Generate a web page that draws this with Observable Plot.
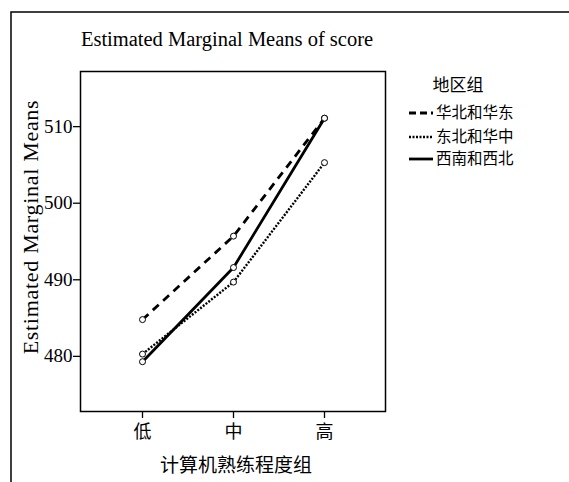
<!DOCTYPE html>
<html><head><meta charset="utf-8">
<script src="https://cdn.jsdelivr.net/npm/d3@7"></script>
<script src="https://cdn.jsdelivr.net/npm/@observablehq/plot@0.6"></script>
<style>body{margin:0;background:#fff}</style>
</head><body><div id="chart"></div>
<script>
const levels = ["低", "中", "高"];
const groups = ["华北和华东", "东北和华中", "西南和西北"];
const northEast = [484.8, 495.7, 511.1];
const northeastCentral = [480.3, 489.7, 505.3];
const southwestNorthwest = [479.3, 491.6, 511.1];
const yTicks = [480, 490, 500, 510];

const seriesValues = [northEast, northeastCentral, southwestNorthwest];
const rows = [];
groups.forEach((g, i) => levels.forEach((l, j) => rows.push({group: g, level: l, value: seriesValues[i][j]})));

const dashMap = {"华北和华东": "8,6", "东北和华中": "2,1.5", "西南和西北": "none"};
const widthMap = {"华北和华东": 2.8, "东北和华中": 2.4, "西南和西北": 2.8};

const serif = "'Liberation Serif','DejaVu Serif',serif";
const cjk = "'Noto Sans CJK SC',sans-serif";

const lineMarks = groups.map(g => Plot.line(rows.filter(r => r.group === g), {
  x: "level", y: "value", stroke: "black", strokeWidth: widthMap[g], strokeDasharray: dashMap[g], strokeLinecap: "butt"
}));

const chart = Plot.plot({
  width: 569, height: 482,
  marginTop: 71, marginLeft: 80, marginRight: 184, marginBottom: 71,
  x: {type: "point", domain: levels, padding: 0.675},
  y: {domain: [472.8, 517.2]},
  style: {fontFamily: serif, color: "black", background: "white"},
  marks: [
    Plot.frame({stroke: "black", strokeWidth: 1.5}),
    Plot.axisY({ticks: yTicks, tickSize: 7, tickPadding: 1, label: null, fontSize: 19, tickFormat: d3.format("d"), strokeWidth: 1.3}),
    Plot.axisX({tickSize: 7, tickPadding: 7, label: null, fontSize: 18, fontFamily: cjk, strokeWidth: 1.3}),
    ...lineMarks,
    Plot.dot(rows, {x: "level", y: "value", r: 3, fill: "white", stroke: "black", strokeWidth: 1})
  ]
});
document.getElementById("chart").appendChild(chart);

const svg = d3.select(chart);
// outer border
svg.append("path").attr("d", "M11,482V12H569").attr("fill", "none").attr("stroke", "black").attr("stroke-width", 1.5);
// title
svg.append("text").attr("x", 227).attr("y", 39).attr("dy", "0.35em").attr("text-anchor", "middle")
  .attr("font-family", serif).attr("font-size", 20.5).text("Estimated Marginal Means of score");
// y label
svg.append("text").attr("transform", "translate(38,227) rotate(-90)").attr("text-anchor", "middle")
  .attr("font-family", serif).attr("font-size", 22).attr("letter-spacing", 0.7).text("Estimated Marginal Means");
// x label
svg.append("text").attr("x", 236).attr("y", 465).attr("dy", "0.35em").attr("text-anchor", "middle")
  .attr("font-family", cjk).attr("font-size", 19).text("计算机熟练程度组");
// legend
svg.append("text").attr("x", 458).attr("y", 85).attr("dy", "0.35em").attr("text-anchor", "middle")
  .attr("font-family", cjk).attr("font-size", 17).text("地区组");
const legY = [113, 137, 159];
groups.forEach((g, i) => {
  svg.append("line").attr("x1", 409).attr("x2", 433).attr("y1", legY[i]).attr("y2", legY[i])
    .attr("stroke", "black").attr("stroke-width", widthMap[g]).attr("stroke-dasharray", g === groups[0] ? "7,4" : dashMap[g]);
  svg.append("text").attr("x", 436).attr("y", legY[i]).attr("dy", "0.35em").attr("text-anchor", "start")
    .attr("font-family", cjk).attr("font-size", 15.5).text(g);
});
</script>
</body></html>
